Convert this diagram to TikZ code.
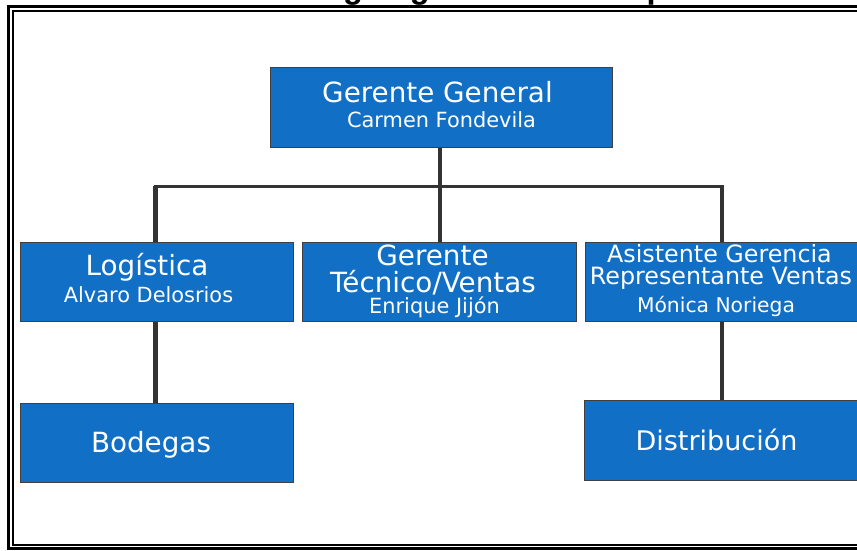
\documentclass[tikz,border=0pt]{standalone}
\usepackage{fontspec}
\setmainfont{DejaVu Sans}
\newfontfamily\titlefont{Liberation Sans}
\definecolor{boxblue}{RGB}{17,111,198}
\definecolor{boxedge}{RGB}{64,64,64}
\definecolor{connc}{RGB}{51,51,51}
\begin{document}
\begin{tikzpicture}[x=1pt,y=-1pt,
  box/.style={draw=boxedge,line width=1pt,fill=boxblue,inner sep=0pt,rectangle},
  big/.style={text=white,anchor=base,inner sep=0pt,font=\fontsize{27.8}{30}\selectfont},
  mid/.style={text=white,anchor=base,inner sep=0pt,font=\fontsize{23.8}{26}\selectfont},
  small/.style={text=white,anchor=base,inner sep=0pt,font=\fontsize{20.9}{23}\selectfont},
  conn/.style={draw=connc,line width=4.5pt},
  bus/.style={draw=connc,line width=3pt,line cap=rect},
  frameout/.style={draw=black,line width=3pt},
  framein/.style={draw=black,line width=1.5pt}]
\useasboundingbox (0,0) rectangle (857,550);
\begin{scope}
\clip (0,0) rectangle (857,550);
% title (cut off at top, as in the reference)
\node[anchor=base west,inner sep=0pt,font=\titlefont\bfseries\fontsize{32.5}{36}\selectfont] (title) at (305,-1.5) {Organigrama de la empresa};
% frame
\draw[frameout] (900,6.5) -- (8.5,6.5) -- (8.5,548.5) -- (900,548.5);
\draw[framein] (900,11) -- (13,11) -- (13,545) -- (900,545);
% junction coordinates
\coordinate (jL) at (155.5,186);
\coordinate (jM) at (440,186);
\coordinate (jR) at (722,186);
% boxes
\node[box,minimum width=342pt,minimum height=80pt] (gg) at (441,107) {};
\node[box,minimum width=273pt,minimum height=79pt] (log) at (156.5,281.5) {};
\node[box,minimum width=274pt,minimum height=79pt] (tec) at (439,281.5) {};
\node[box,minimum width=288pt,minimum height=79pt] (asi) at (729,281.5) {};
\node[box,minimum width=273pt,minimum height=79pt] (bod) at (156.5,442.5) {};
\node[box,minimum width=289pt,minimum height=80pt] (dis) at (728.5,440) {};
% connectors
\draw[bus] (jL) -- (jR);
\draw[conn,line width=4pt] (gg.south -| jM) -- (jM);
\draw[conn] (jL) -- (log.north -| jL);
\draw[conn,line width=4pt] (jM) -- (tec.north -| jM);
\draw[conn] (jR) -- (asi.north -| jR);
\draw[conn] (log.south -| jL) -- (bod.north -| jL);
\draw[conn] (asi.south -| jR) -- (dis.north -| jR);
% texts
\node[big] (t1) at (437.5,102) {Gerente General};
\node[small] (t2) at (441.5,127) {Carmen Fondevila};
\node[big] (t3) at (147,275) {Logística};
\node[small] (t4) at (148.5,302) {Alvaro Delosrios};
\node[big] (t5) at (432.5,265) {Gerente};
\node[big] (t6) at (433,292) {Técnico/Ventas};
\node[small] (t7) at (434.5,313) {Enrique Jijón};
\node[mid] (t8) at (719.5,262) {Asistente Gerencia};
\node[mid] (t9) at (721,284) {Representante Ventas};
\node[small,font=\fontsize{20.3}{23}\selectfont] (t10) at (716,312) {Mónica Noriega};
\node[big] (t11) at (151,452) {Bodegas};
\node[big,font=\fontsize{27}{29}\selectfont] (t12) at (716.5,450) {Distribución};
\end{scope}
\end{tikzpicture}
\end{document}
